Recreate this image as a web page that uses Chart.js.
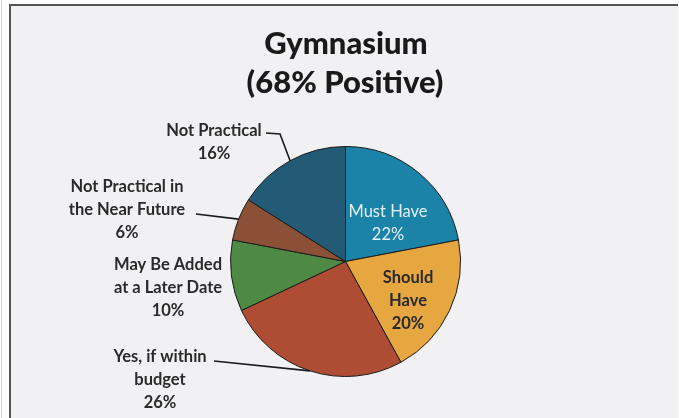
<!DOCTYPE html>
<html>
<head>
<meta charset="utf-8">
<script src="https://cdn.jsdelivr.net/npm/chart.js@4.4.1/dist/chart.umd.min.js"></script>
<style>
  html, body { margin: 0; padding: 0; background: #ffffff; }
  #wrap { position: relative; width: 679px; height: 418px; }
  canvas { display: block; }
</style>
</head>
<body>
<div id="wrap"><canvas id="chart" width="679" height="418"></canvas></div>
<script>
// Survey responses for the gymnasium question
const categories = [
  'Must Have',
  'Should Have',
  'Yes, if within budget',
  'May Be Added at a Later Date',
  'Not Practical in the Near Future',
  'Not Practical'
];
const percentages = [22, 20, 26, 10, 6, 16];
const titleLines = ['Gymnasium', '(68% Positive)'];

// Label text broken into the lines that are drawn
const labelLines = [
  ['Must Have', '22%'],
  ['Should', 'Have', '20%'],
  ['Yes, if within', 'budget', '26%'],
  ['May Be Added', 'at a Later Date', '10%'],
  ['Not Practical in', 'the Near Future', '6%'],
  ['Not Practical', '16%']
];

const sliceColors = ['#1b82a8', '#e6a640', '#ae4d34', '#4f8a45', '#8b5036', '#235a76'];

// Label placement: centre x, first line y, colour, and whether a leader line is drawn
const labelLayout = [
  { x: 388, y: 212, color: '#e4f0f5', weight: '400', leader: false },
  { x: 408, y: 278, color: '#2a2a2a', weight: '700', leader: false },
  { x: 160, y: 357, color: '#2a2a2a', weight: '700', leader: true, bend: [214, 361] },
  { x: 168, y: 265, color: '#2a2a2a', weight: '700', leader: false },
  { x: 127, y: 187, color: '#2a2a2a', weight: '700', leader: true, bend: [196, 214] },
  { x: 214, y: 131, color: '#2a2a2a', weight: '700', leader: true, bend: [266, 133], knee: [280, 134] }
];

const FONT = 'Lato, "Open Sans", sans-serif';

const framePlugin = {
  id: 'frame',
  beforeDraw(chart) {
    const ctx = chart.ctx;
    ctx.save();
    ctx.fillStyle = '#ffffff';
    ctx.fillRect(0, 0, chart.width, chart.height);
    ctx.fillStyle = '#f1f1f3';
    ctx.fillRect(10, 5, 668, chart.height - 5);
    ctx.strokeStyle = '#555555';
    ctx.lineWidth = 2;
    ctx.beginPath();
    ctx.moveTo(10, chart.height);
    ctx.lineTo(10, 5);
    ctx.lineTo(678, 5);
    ctx.stroke();
    ctx.strokeStyle = '#cfcfcf';
    ctx.lineWidth = 1;
    ctx.beginPath();
    ctx.moveTo(1.5, 0);
    ctx.lineTo(1.5, chart.height);
    ctx.stroke();
    // title
    ctx.fillStyle = '#1a1a1a';
    ctx.font = '900 31px ' + FONT;
    ctx.textAlign = 'center';
    ctx.textBaseline = 'middle';
    ctx.fillText(titleLines[0], 346, 44);
    ctx.fillText(titleLines[1], 345, 83);
    ctx.restore();
  }
};

const labelPlugin = {
  id: 'sliceLabels',
  afterDatasetsDraw(chart) {
    const ctx = chart.ctx;
    const arcs = chart.getDatasetMeta(0).data;
    ctx.save();
    arcs.forEach((arc, i) => {
      const lay = labelLayout[i];
      const lines = labelLines[i];
      ctx.font = lay.weight + ' 16.5px ' + FONT;
      ctx.textAlign = 'center';
      ctx.textBaseline = 'middle';
      lines.forEach((t, k) => {
        ctx.fillStyle = lay.color;
        ctx.fillText(t, lay.x, lay.y + k * 23);
      });
      if (lay.leader) {
        const p = arc.getProps(['x', 'y', 'startAngle', 'endAngle', 'outerRadius'], true);
        const mid = (p.startAngle + p.endAngle) / 2;
        const ex = p.x + Math.cos(mid) * p.outerRadius;
        const ey = p.y + Math.sin(mid) * p.outerRadius;
        ctx.strokeStyle = '#1a1a1a';
        ctx.lineWidth = 1.6;
        ctx.beginPath();
        ctx.moveTo(lay.bend[0], lay.bend[1]);
        if (lay.knee) ctx.lineTo(lay.knee[0], lay.knee[1]);
        ctx.lineTo(ex, ey);
        ctx.stroke();
      }
    });
    ctx.restore();
  }
};

new Chart(document.getElementById('chart'), {
  type: 'pie',
  data: {
    labels: categories,
    datasets: [{
      data: percentages,
      backgroundColor: sliceColors,
      borderColor: '#1c1c1c',
      borderWidth: 1
    }]
  },
  options: {
    responsive: false,
    animation: false,
    rotation: 0,
    layout: { padding: { left: 230, right: 218, top: 146, bottom: 41 } },
    plugins: {
      legend: { display: false },
      title: { display: false },
      tooltip: { enabled: false }
    }
  },
  plugins: [framePlugin, labelPlugin]
});
</script>
</body>
</html>
